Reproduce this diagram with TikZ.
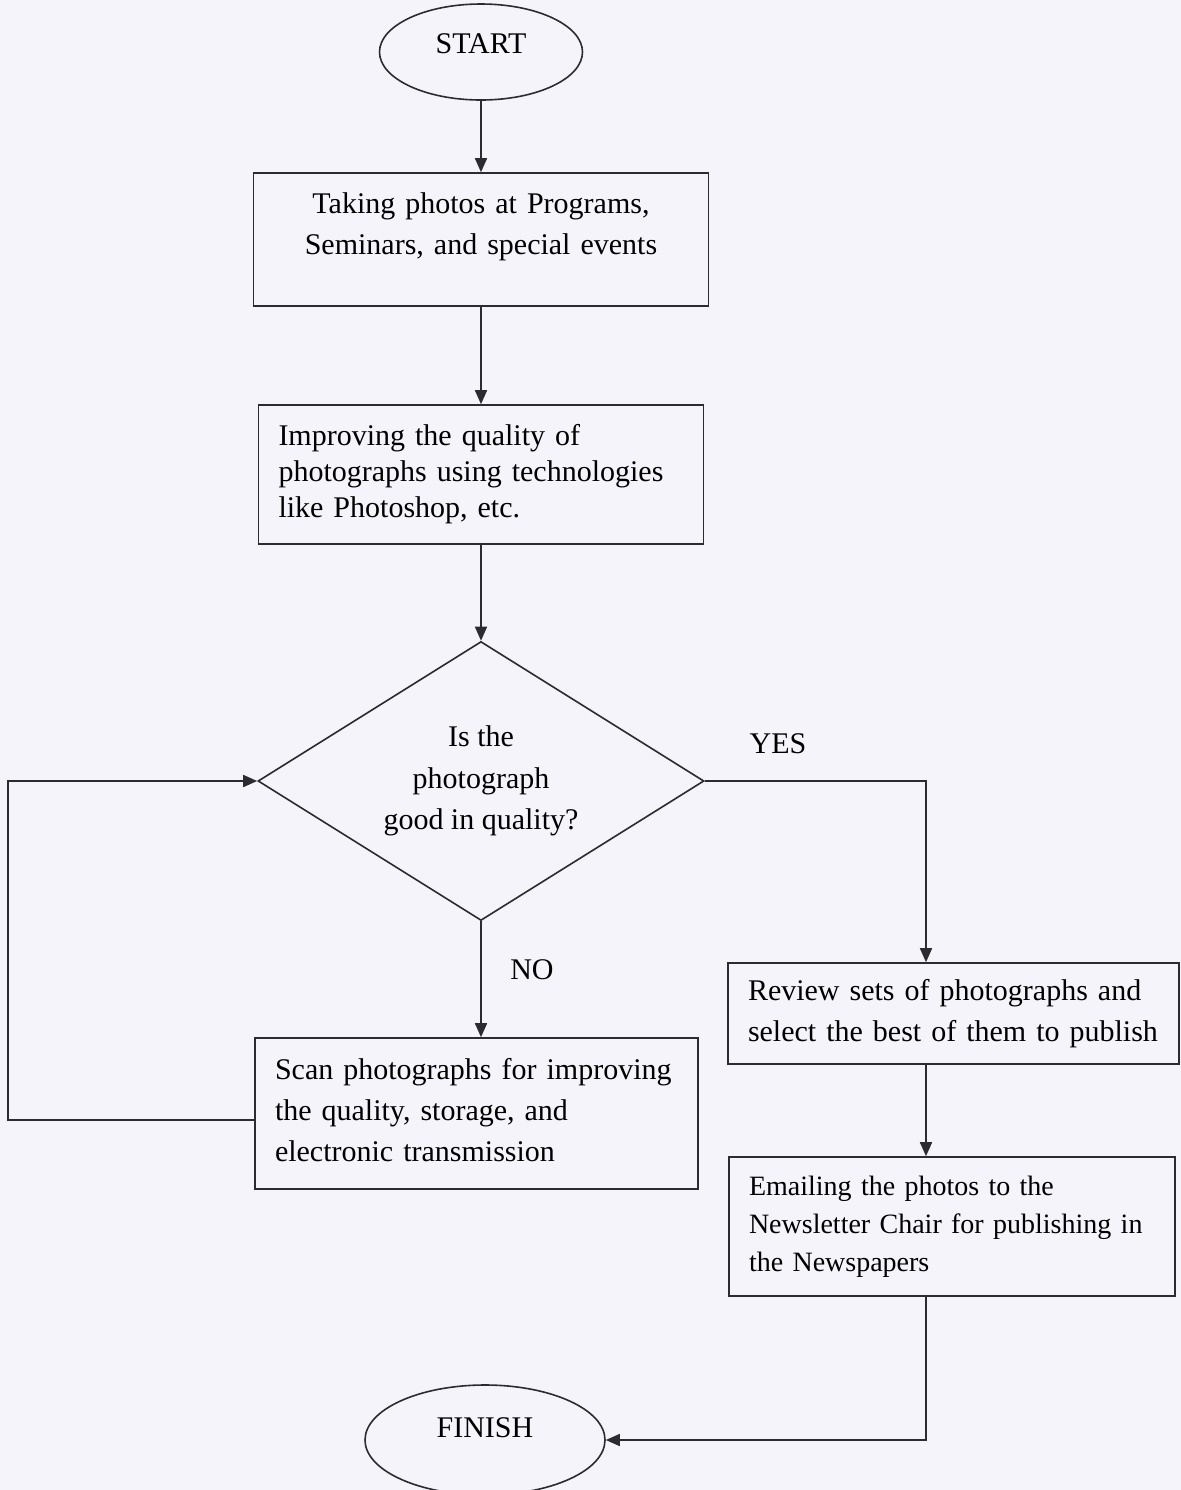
\documentclass[tikz,border=0pt]{standalone}
\usepackage{fontspec}
\setmainfont{Liberation Serif}
\usetikzlibrary{arrows.meta,calc,positioning,shapes.geometric}
\definecolor{scanpaper}{rgb}{0.965,0.957,0.985}
\definecolor{inkgray}{rgb}{0.17,0.17,0.19}
\tikzset{
  terminal/.style={
    ellipse,
    draw=inkgray,
    line width=.8pt,
    inner sep=0pt,
    font=\fontsize{15}{18}\selectfont
  },
  bloque/.style={
    rectangle,
    draw=inkgray,
    line width=.8pt,
    align=left,
    inner xsep=10pt,
    inner ysep=0pt,
    font=\fontsize{15}{20.5}\selectfont
  },
  pregunta/.style={
    diamond,
    draw=inkgray,
    line width=.8pt,
    aspect=1.6,
    inner sep=0pt,
    align=center,
    minimum width=223pt,
    minimum height=139.5pt,
    font=\fontsize{15}{20.75}\selectfont
  },
  etiqueta/.style={
    inner sep=0pt,
    font=\fontsize{15}{18}\selectfont
  },
  arrow/.style={
    -{Triangle[length=7pt,width=6pt]},
    line width=.8pt,
    inkgray
  }
}
\begin{document}
\begin{tikzpicture}[x=0.5pt,y=-0.5pt]
\useasboundingbox (0,0) rectangle (1181,1490);
\fill[scanpaper] (0,0) rectangle (1181,1490);
\node[terminal, minimum width=101.5pt, minimum height=48pt, text depth=8pt] (start) at (481,52) {START};
\node[bloque, align=center, text width=207.5pt, minimum height=66.5pt] (take) at (481,239.5)
  {Taking photos at Programs,\\ Seminars, and special events\\[-4.5pt]\mbox{}};
\node[bloque, text width=202.5pt, minimum height=69.5pt, font=\fontsize{15}{18}\selectfont] (improve) at (481,474.5)
  {Improving the quality of\\ photographs using technologies\\ like Photoshop, etc.};
\node[pregunta] (check) at (481,781) {Is the\\ photograph\\ good in quality?};
\node[etiqueta] (yes) at (778,744) {YES};
\node[bloque, text width=205.5pt, minimum height=50.5pt] (review) at (953.5,1013.5)
  {Review sets of photographs and\\ select the best of them to publish};
\node[bloque, text width=203pt, minimum height=69.5pt, font=\fontsize{14}{19}\selectfont] (email) at (952,1226.5)
  {Emailing the photos to the\\ Newsletter Chair for publishing in\\ the Newspapers};
\node[etiqueta] (no) at (532,970) {NO};
\node[bloque, text width=201.5pt, minimum height=75.5pt] (scan) at (476.5,1113.5)
  {Scan photographs for improving\\ the quality, storage, and\\ electronic transmission\\[-17pt]\mbox{}};
\node[terminal, minimum width=120pt, minimum height=55pt, text depth=12pt] (finish) at (485,1440) {FINISH};
% bend points
\coordinate (yesbend) at (926,781);
\coordinate (loopleft) at (8,1120);
\draw[arrow] (start) -- (take);
\draw[arrow] (take) -- (improve);
\draw[arrow] (improve) -- (check);
\draw[arrow] (check.east) -- (yesbend) -- (yesbend |- review.north);
\draw[arrow] (review.south -| yesbend) -- (email.north -| yesbend);
\draw[arrow] (email.south -| yesbend) |- (finish.east);
\draw[arrow] (check.south) -- (check.south |- scan.north);
\draw[arrow] (scan.west |- loopleft) -- (loopleft) |- (check.west);
\end{tikzpicture}
\end{document}
